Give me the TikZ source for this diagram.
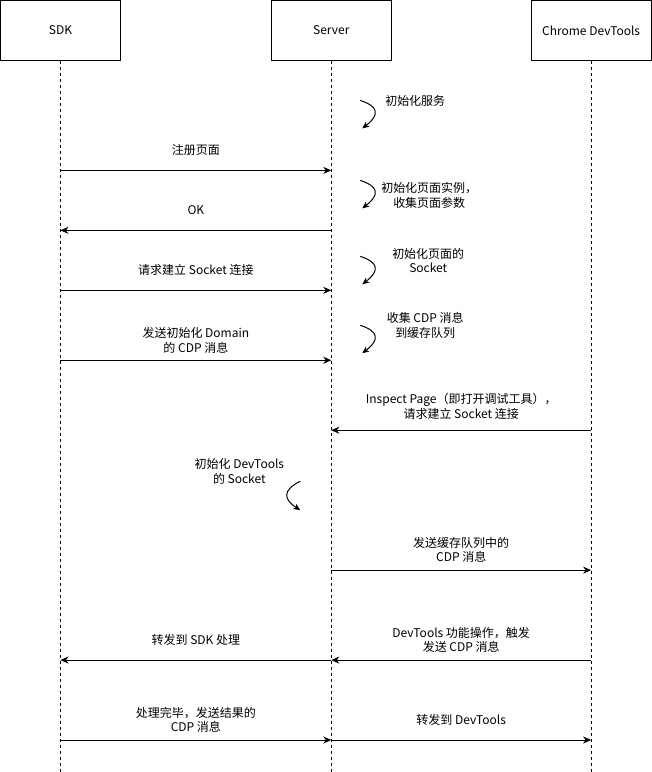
\documentclass[tikz,border=0pt]{standalone}
\usepackage{fontspec}
\setmainfont{Noto Sans CJK SC}
\usetikzlibrary{arrows.meta,positioning}

\begin{document}
\begin{tikzpicture}[
    x=1pt, y=-1pt,
    line width=1pt,
    font=\fontsize{12}{14.5}\selectfont,
    actor/.style={draw, minimum width=120pt, minimum height=60pt, inner sep=0pt},
    lifeline/.style={dash pattern=on 3pt off 3pt},
    msg/.style={-{Stealth[length=8pt,width=7pt,inset=2.5pt]}},
    msg label/.style={midway, yshift=20pt, align=center},
    note/.style={align=center},
    self/.style={-{Stealth[length=7pt,width=6pt,inset=2pt]}}
]
    \useasboundingbox (-0.5,-0.5) rectangle (651.5,772);

    % Draw the actor boxes and their lifelines
    \foreach \name/\x/\txt in {SDK/60/SDK, Srv/331/Server, CDT/591/Chrome DevTools} {
        \node[actor] (\name) at (\x,30) {\txt};
        \draw[lifeline] (\name.south) -- ++(0,712) coordinate (\name-end);
    }

    % Message end points on every lifeline
    \foreach \name/\x in {SDK/60,Srv/331,CDT/591}
        \foreach \y in {170,230,290,360,430,570,660,740}
            \coordinate (\name-\y) at (\x,\y);

    % Draw the messages
    \draw[msg] (SDK-170) -- (Srv-170) node[msg label] {注册页面};
    \draw[msg] (Srv-230) -- (SDK-230) node[msg label] {OK};
    \draw[msg] (SDK-290) -- (Srv-290) node[msg label] {请求建立 Socket 连接};
    \draw[msg] (SDK-360) -- (Srv-360) node[msg label] {发送初始化 Domain\\的 CDP 消息};
    \draw[msg] (CDT-430) -- (Srv-430) node[msg label, yshift=4pt] {Inspect Page（即打开调试工具），\\请求建立 Socket 连接};
    \draw[msg] (Srv-570) -- (CDT-570) node[msg label] {发送缓存队列中的\\CDP 消息};
    \draw[msg] (CDT-660) -- (Srv-660) node[msg label] {DevTools 功能操作，触发\\发送 CDP 消息};
    \draw[msg] (Srv-660) -- (SDK-660) node[msg label] {转发到 SDK 处理};
    \draw[msg] (SDK-740) -- (Srv-740) node[msg label] {处理完毕，发送结果的\\CDP 消息};
    \draw[msg] (Srv-740) -- (CDT-740) node[msg label] {转发到 DevTools};

    % Draw the self notes of the server
    \foreach \i/\y in {1/100,2/180,3/256,4/325} {
        \coordinate (note\i-a) at (360,\y);
        \coordinate (note\i-b) at (362,\y+28);
        \draw[self] (note\i-a) .. controls (378,\y+6) and (380,\y+14) .. (note\i-b);
    }
    \coordinate (note5-a) at (300,481);
    \coordinate (note5-b) at (300,510);
    \draw[self] (note5-a) .. controls (282,490) and (283,499) .. (note5-b);

    % Annotate the notes
    \node[note] (note1) at (415,101) {初始化服务};
    \node[note] (note2) at (429,195) {初始化页面实例，\\收集页面参数};
    \node[note] (note3) at (428,260) {初始化页面的\\Socket};
    \node[note] (note4) at (425,325) {收集 CDP 消息\\到缓存队列};
    \node[note] (note5) at (239,471) {初始化 DevTools\\的 Socket};
\end{tikzpicture}
\end{document}
